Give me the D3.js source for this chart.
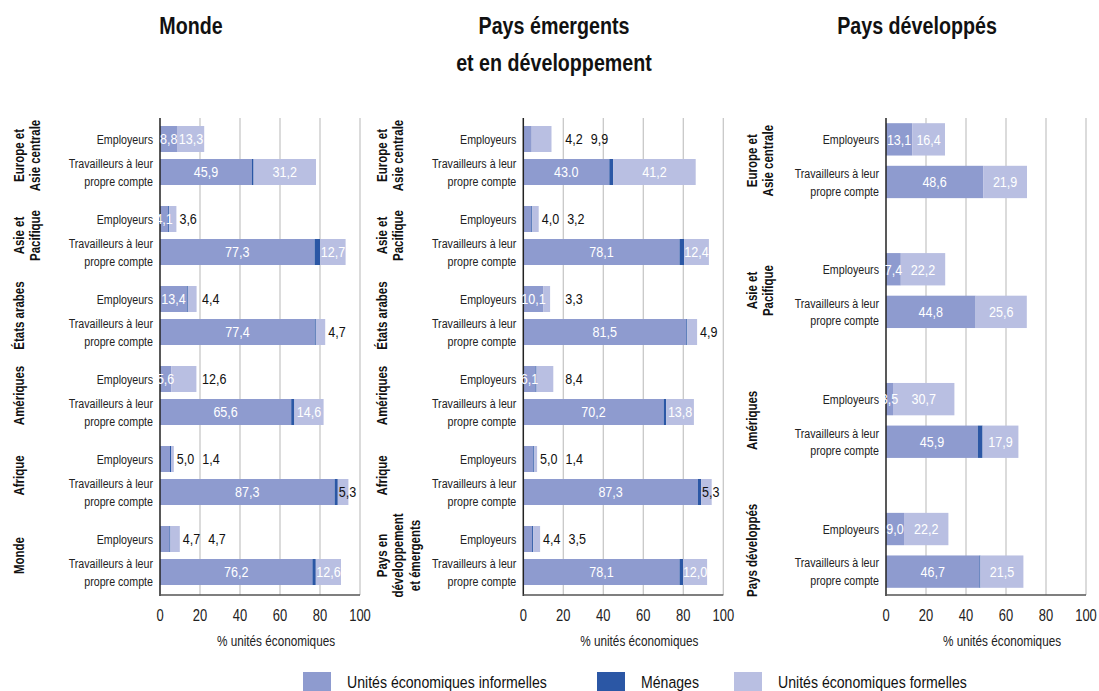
<!DOCTYPE html>
<html>
<head>
<meta charset="utf-8">
<script src="https://cdn.jsdelivr.net/npm/d3@7"></script>
<style>
  html, body { margin: 0; padding: 0; background: #ffffff; }
  svg { display: block; }
  text { font-family: "Liberation Sans", Arial, sans-serif; }
</style>
</head>
<body>
<svg id="chart" width="1099" height="691"></svg>
<script>
// ---------------- DATA ----------------
const panelTitles = ["Monde", "Pays émergents\net en développement", "Pays développés"];
const rowLabels = ["Employeurs", "Travailleurs à leur\npropre compte"];
const seriesNames = ["Unités économiques informelles", "Ménages", "Unités économiques formelles"];
const xTicks = [0, 20, 40, 60, 80, 100];
const xTitle = "% unités économiques";

// Panel 1 : Monde  (rows alternate: Employeurs, Travailleurs à leur propre compte, per group)
const groupsMonde = ["Europe et\nAsie centrale", "Asie et\nPacifique", "États arabes", "Amériques", "Afrique", "Monde"];
const mondeInformelles = [8.8, 45.9, 4.1, 77.3, 13.4, 77.4, 5.6, 65.6, 5.0, 87.3, 4.7, 76.2];
const mondeMenages     = [0.0, 0.9, 0.5, 2.8, 0.5, 0.5, 0.0, 1.6, 0.5, 1.6, 0.5, 1.7];
const mondeFormelles   = [13.3, 31.2, 3.6, 12.7, 4.4, 4.7, 12.6, 14.6, 1.4, 5.3, 4.7, 12.6];

// Panel 2 : Pays émergents et en développement
const groupsEmergents = ["Europe et\nAsie centrale", "Asie et\nPacifique", "États arabes", "Amériques", "Afrique", "Pays en\ndéveloppement\net émergents"];
const emergInformelles = [4.2, 43.0, 4.0, 78.1, 10.1, 81.5, 6.1, 70.2, 5.0, 87.3, 4.4, 78.1];
const emergMenages     = [0.0, 2.0, 0.5, 2.3, 0.0, 0.5, 0.5, 1.3, 0.5, 1.6, 0.5, 1.8];
const emergFormelles   = [9.9, 41.2, 3.2, 12.4, 3.3, 4.9, 8.4, 13.8, 1.4, 5.3, 3.5, 12.0];

// Panel 3 : Pays développés
const groupsDeveloppes = ["Europe et\nAsie centrale", "Asie et\nPacifique", "Amériques", "Pays développés"];
const devInformelles = [13.1, 48.6, 7.4, 44.8, 3.5, 45.9, 9.0, 46.7];
const devMenages     = [0.0, 0.0, 0.0, 0.0, 0.0, 2.4, 0.0, 0.5];
const devFormelles   = [16.4, 21.9, 22.2, 25.6, 30.7, 17.9, 22.2, 21.5];

// label text as printed in the source (one label uses a point)
const labelOverrides = { "1|1|0": "43.0" };

// ---------------- STYLE / LAYOUT ----------------
const colors = ["#8e9bcf", "#2b57a5", "#b9bfe2"];
// label placement per row: [informelles, formelles]
// in = white centred, end = black after bar, col = black near 20 %, seg = black at segment start
const modesMonde = [["in","in"],["in","in"],["in","end"],["in","in"],["in","col"],["in","end"],
                    ["in","col"],["in","in"],["end","col"],["in","seg"],["end","col"],["in","in"]];
const modesEmerg = [["col","col"],["in","in"],["end","col"],["in","in"],["in","col"],["in","end"],
                    ["in","col"],["in","in"],["end","col"],["in","seg"],["end","col"],["in","in"]];
const modesDev = [["in","in"],["in","in"],["in","in"],["in","in"],["in","in"],["in","in"],["in","in"],["in","in"]];

const SX = 0.81; // horizontal condensing of the font
const plotTop = 118, plotBottom = 593, axisY = 595;

const panels = [
  { title: panelTitles[0], groups: groupsMonde, inf: mondeInformelles, men: mondeMenages, form: mondeFormelles,
    modes: modesMonde, x0: 160, x1: 360, titleX: 191, groupX: 19, pi: 0.2625, po: 0.1, ipi: 0.212 },
  { title: panelTitles[1], groups: groupsEmergents, inf: emergInformelles, men: emergMenages, form: emergFormelles,
    modes: modesEmerg, x0: 523.3, x1: 723.3, titleX: 554, groupX: 382, pi: 0.2625, po: 0.1, ipi: 0.212 },
  { title: panelTitles[2], groups: groupsDeveloppes, inf: devInformelles, men: devMenages, form: devFormelles,
    modes: modesDev, x0: 886, x1: 1086, titleX: 917, groupX: 752, pi: 0.423, po: 0.04, ipi: 0.241 }
];

const svg = d3.select("#chart");
const fmt = v => d3.format(".1f")(v).replace(".", ",");

// condensed text helper
function ctext(parent, x, y, opts) {
  const o = Object.assign({ size: 13, weight: "normal", anchor: "start", fill: "#222", rotate: 0, sx: SX }, opts);
  const gg = parent.append("g").attr("transform",
    `translate(${x},${y})` + (o.rotate ? ` rotate(${o.rotate})` : "") + ` scale(${o.sx},1)`);
  const t = gg.append("text").attr("font-size", o.size).attr("font-weight", o.weight)
    .attr("text-anchor", o.anchor).attr("fill", o.fill);
  const lines = o.text.split("\n");
  if (lines.length === 1) t.text(lines[0]);
  else lines.forEach((ln, i) => t.append("tspan").attr("x", 0).attr("y", (o.lineYs ? o.lineYs[i] : i * (o.lh || 16))).text(ln));
  return { g: gg, t, width: () => t.node().getComputedTextLength() * o.sx };
}

panels.forEach((p, pIdx) => {
  const g = svg.append("g");
  const x = d3.scaleLinear().domain([0, 100]).range([p.x0, p.x1]);
  const yGroup = d3.scaleBand().domain(p.groups).range([plotTop, plotBottom])
    .paddingInner(p.pi).paddingOuter(p.po);
  const yRow = d3.scaleBand().domain(rowLabels).range([0, yGroup.bandwidth()])
    .paddingInner(p.ipi).paddingOuter(0);

  // title
  ctext(g, p.titleX, 34, { text: p.title, size: 24, weight: "bold", anchor: "middle", fill: "#111", lh: 37, sx: 0.82 });

  // gridlines
  g.selectAll(".grid").data(xTicks.filter(t => t > 0)).join("line")
    .attr("x1", d => x(d)).attr("x2", d => x(d))
    .attr("y1", plotTop).attr("y2", axisY)
    .attr("stroke", "#c8c8c8").attr("stroke-width", 1.3);

  // rows
  const rows = [];
  p.groups.forEach((grp, gi) => {
    rowLabels.forEach((rl, ri) => {
      const idx = gi * 2 + ri;
      rows.push({ grp, gi, rl, ri, idx, vals: [p.inf[idx], p.men[idx], p.form[idx]], mode: p.modes[idx],
        y: yGroup(grp) + yRow(rl), h: yRow.bandwidth() });
    });
  });

  rows.forEach(r => {
    let cum = 0;
    r.segs = r.vals.map((v, si) => { const s = { si, v, a: cum, b: cum + v }; cum += v; return s; });
    r.total = cum;
    g.selectAll(null).data(r.segs.filter(s => s.v > 0)).join("rect")
      .attr("x", s => x(s.a)).attr("y", r.y)
      .attr("width", s => x(s.b) - x(s.a)).attr("height", r.h).attr("fill", s => colors[s.si]);
  });

  // axes lines
  g.append("line").attr("x1", x(0)).attr("x2", x(0)).attr("y1", plotTop).attr("y2", axisY + 1)
    .attr("stroke", "#222").attr("stroke-width", 1.5);
  g.append("line").attr("x1", x(0)).attr("x2", x(100)).attr("y1", axisY).attr("y2", axisY)
    .attr("stroke", "#555").attr("stroke-width", 1.5);

  // tick labels
  xTicks.forEach(d => ctext(g, x(d), 621, { text: String(d), size: 16, anchor: "middle", fill: "#222" }));

  // axis title
  ctext(g, (x(0) + x(100)) / 2 + 16, 646, { text: xTitle, size: 14.5, anchor: "middle", fill: "#222" });

  // row labels
  rows.forEach(r => {
    const cy = r.y + r.h / 2;
    const n = r.rl.split("\n").length;
    ctext(g, x(0) - 7, cy + 4.6, { text: r.rl, size: 13.5, anchor: "end", fill: "#222",
      lineYs: n === 1 ? null : [-8.8, 9], sx: 0.79 });
  });

  // group labels (rotated)
  p.groups.forEach(grp => {
    const cy = yGroup(grp) + yGroup.bandwidth() / 2;
    const n = grp.split("\n").length;
    ctext(g, p.groupX, cy, { text: grp, size: 14, weight: "bold", anchor: "middle", fill: "#111",
      rotate: -90, lineYs: n === 1 ? null : d3.range(n).map(i => 5 + i * 16.5), sx: 0.82 })
      .t.attr("y", n === 1 ? 5 : null);
  });

  // value labels
  rows.forEach(r => {
    const cy = r.y + r.h / 2 + 5.3;
    let prevEnd = null;
    [0, 2].forEach((si, k) => {
      const s = r.segs[si];
      const mode = r.mode[k];
      const key = `${pIdx}|${r.idx}|${si}`;
      const label = labelOverrides[key] || fmt(s.v);
      if (mode === "in") {
        ctext(g, (x(s.a) + x(s.b)) / 2, cy, { text: label, size: 15.5, anchor: "middle", fill: "#ffffff" });
      } else {
        let lx;
        if (mode === "end") lx = x(r.total) + 3;
        else if (mode === "seg") lx = x(s.a) + 1;
        else lx = Math.max(x(20) + 2, prevEnd != null ? prevEnd + 8 : -Infinity);
        const c = ctext(g, lx, cy, { text: label, size: 15.5, anchor: "start", fill: "#111" });
        prevEnd = lx + c.width();
      }
    });
  });
});

// legend
const legendItems = [
  { name: seriesNames[0], x: 303, color: colors[0] },
  { name: seriesNames[1], x: 597, color: colors[1] },
  { name: seriesNames[2], x: 734, color: colors[2] }
];
const lg = svg.append("g");
legendItems.forEach(it => {
  lg.append("rect").attr("x", it.x).attr("y", 672).attr("width", 28).attr("height", 20).attr("fill", it.color);
  ctext(lg, it.x + 44, 688, { text: it.name, size: 17, fill: "#111", sx: 0.83 });
});
</script>
</body>
</html>
